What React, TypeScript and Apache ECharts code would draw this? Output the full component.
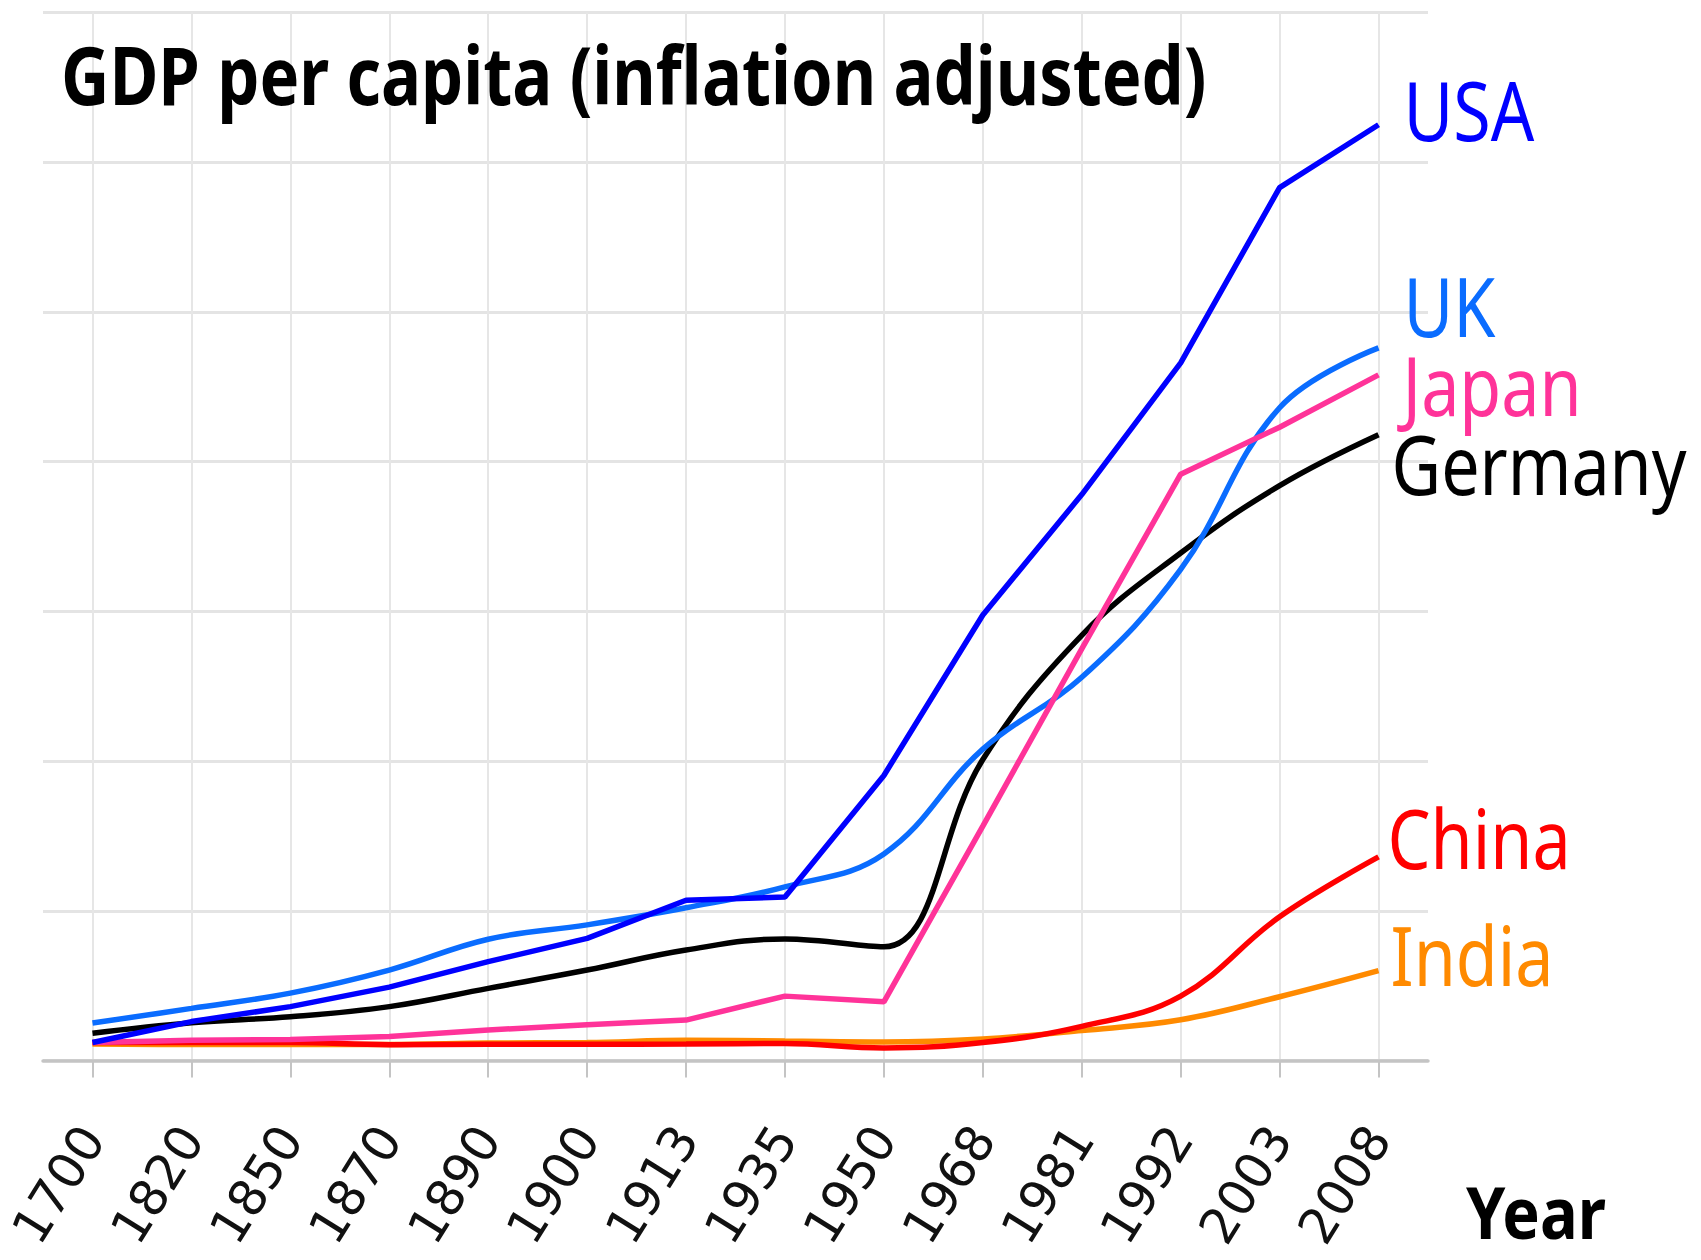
import React, { useEffect, useRef } from "react";
import * as echarts from "echarts";

// ---- data (GDP per capita) ----
const years = ["1700", "1820", "1850", "1870", "1890", "1900", "1913", "1935", "1950", "1968", "1981", "1992", "2003", "2008"];
const usa = [600, 1300, 1800, 2450, 3300, 4080, 5350, 5460, 9520, 14880, 18900, 23300, 29150, 31250];
const uk = [1250, 1740, 2250, 3020, 4050, 4530, 5100, 5800, 6900, 10400, 12800, 16400, 21800, 23800];
const germany = [910, 1260, 1460, 1800, 2410, 3020, 3690, 4060, 3800, 10050, 14200, 16950, 19200, 20900];
const japan = [600, 680, 700, 800, 1020, 1190, 1350, 2150, 1960, 7830, 13750, 19580, 21150, 22900];
const china = [600, 600, 600, 530, 540, 545, 550, 570, 420, 600, 1140, 2150, 4800, 6800];
const india = [550, 533, 533, 533, 584, 600, 673, 650, 620, 720, 1000, 1360, 2130, 3000];

const titleText = "GDP per capita (inflation adjusted)";
const axisName = "Year";

export default function App() {
  const ref = useRef<HTMLDivElement>(null);

  useEffect(() => {
    if (!ref.current) return;
    const chart = echarts.init(ref.current, null, { renderer: "svg" });

    const defs = [
      { name: "India", data: india, color: "#ff8a00", smooth: 0.4, dx: 12, dy: -17 },
      { name: "China", data: china, color: "#ff0000", smooth: 0.4, dx: 9, dy: -20 },
      { name: "Germany", data: germany, color: "#000000", smooth: 0.4, dx: 13, dy: 28 },
      { name: "UK", data: uk, color: "#0a6cff", smooth: 0.4, dx: 25, dy: -43 },
      { name: "Japan", data: japan, color: "#ff3399", smooth: false, dx: 24, dy: 9.5 },
      { name: "USA", data: usa, color: "#0000ff", smooth: false, dx: 25, dy: -15.5 },
    ];

    chart.setOption({
      animation: false,
      backgroundColor: "#ffffff",
      grid: {
        left: 43,
        right: 273,
        top: 12.5,
        bottom: 199.5,
        containLabel: false,
        outerBoundsMode: "none",
      },
      xAxis: {
        type: "category",
        data: years,
        boundaryGap: true,
        axisLine: { show: true, lineStyle: { color: "#c4c4c4", width: 3.5 } },
        axisTick: { show: true, alignWithLabel: true, interval: 0, length: 17, lineStyle: { color: "#c4c4c4", width: 2 } },
        axisLabel: {
          interval: 0,
          rotate: 58,
          margin: 70,
          fontFamily: "DejaVu Sans",
          fontSize: 50,
          color: "#111111",
          hideOverlap: false,
        },
        splitLine: { show: true, alignWithLabel: true, interval: 0, lineStyle: { color: "#e6e6e6", width: 2 } },
      },
      yAxis: {
        type: "value",
        min: 0,
        max: 35000,
        interval: 5000,
        axisLine: { show: false },
        axisTick: { show: false },
        axisLabel: { show: false },
        splitLine: { show: true, lineStyle: { color: "#e4e4e4", width: 3 } },
      },
      series: defs.map((d) => ({
        name: d.name,
        type: "line",
        data: d.data,
        smooth: d.smooth,
        showSymbol: false,
        symbol: "none",
        lineStyle: { color: d.color, width: 5.5 },
        itemStyle: { color: d.color },
        z: 3,
      })),
    });

    const measure = (font: string, text: string) => {
      const ctx = document.createElement("canvas").getContext("2d");
      if (!ctx) return 100;
      ctx.font = font;
      return ctx.measureText(text).width;
    };

    const labelFont = '82px "Noto Sans"';
    const labelScale = 295 / measure(labelFont, "Germany");
    const boldFont = 'bold 81px "Noto Sans"';
    const titleScale = 1145 / measure(boldFont, titleText);
    const yearScale = 140 / measure('bold 72px "Noto Sans"', axisName);

    const graphics: any[] = [
      {
        type: "text",
        x: 61,
        y: 74,
        scaleX: titleScale,
        style: {
          text: titleText,
          fontFamily: "Noto Sans",
          fontWeight: "bold",
          fontSize: 81,
          fill: "#000",
          align: "left",
          verticalAlign: "middle",
        },
      },
      {
        type: "text",
        x: 1466,
        y: 1211,
        scaleX: yearScale,
        style: {
          text: axisName,
          fontFamily: "Noto Sans",
          fontWeight: "bold",
          fontSize: 72,
          fill: "#000",
          align: "left",
          verticalAlign: "middle",
        },
      },
    ];

    defs.forEach((d) => {
      const last = d.data.length - 1;
      const p = chart.convertToPixel({ gridIndex: 0 }, [last, d.data[last]]) as number[];
      graphics.push({
        type: "text",
        x: p[0] + d.dx,
        y: p[1] + d.dy,
        scaleX: labelScale,
        style: {
          text: d.name,
          fontFamily: "Noto Sans",
          fontSize: 82,
          fill: d.color,
          align: "left",
          verticalAlign: "middle",
        },
      });
    });

    chart.setOption({ graphic: graphics });

    return () => chart.dispose();
  }, []);

  return (
    <div
      ref={ref}
      style={{ position: "fixed", left: 0, top: 0, width: 1701, height: 1260, background: "#fff" }}
    />
  );
}
